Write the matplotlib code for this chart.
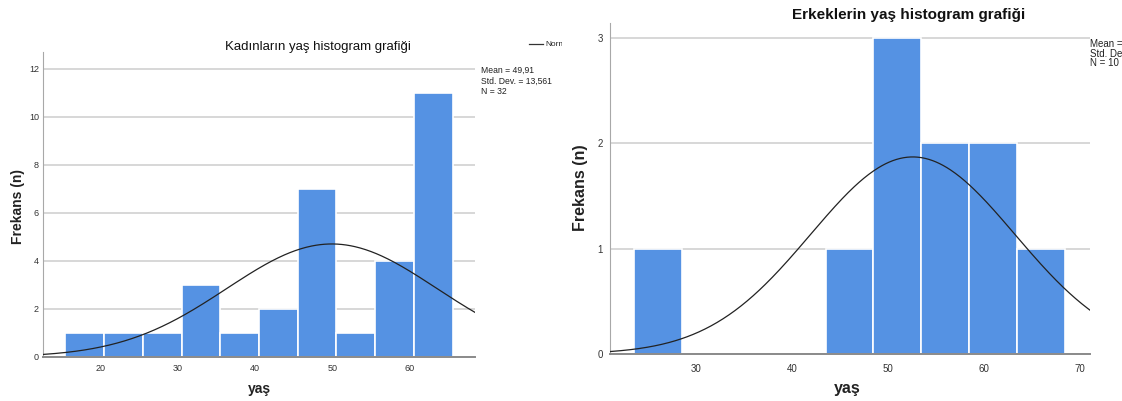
import numpy as np
import matplotlib
matplotlib.use("Agg")
import matplotlib.pyplot as plt
from matplotlib.transforms import Bbox, TransformedBbox

plt.rcParams['font.family'] = ['Liberation Sans', 'DejaVu Sans']

# ---- data ----
women_bin_start = 15.5
women_bin_width = 5.0
women_counts = [1, 1, 1, 3, 1, 2, 7, 1, 4, 11]
women_mean, women_sd, women_n = 49.91, 13.561, 32
women_xticks = [20, 30, 40, 50, 60]
women_yticks = [0, 2, 4, 6, 8, 10, 12]

men_bin_start = 23.5
men_bin_width = 5.0
men_counts = [1, 0, 0, 0, 1, 3, 2, 2, 1]
men_mean, men_sd, men_n = 52.6, 10.67, 10
men_xticks = [30, 40, 50, 60, 70]
men_yticks = [0, 1, 2, 3]

BAR = '#5592e3'
W, H = 1122, 401
fig = plt.figure(figsize=(W / 100, H / 100), dpi=100)


def px_axes(x0, x1, ytop, ybot):
    return fig.add_axes([x0 / W, 1 - ybot / H, (x1 - x0) / W, (ybot - ytop) / H])


def style(ax, fs, pad):
    for s in ['top', 'right']:
        ax.spines[s].set_visible(False)
    ax.spines['left'].set_color('#a8a8a8')
    ax.spines['bottom'].set_color('#8a8a8a')
    ax.spines['bottom'].set_linewidth(1.4)
    ax.grid(axis='y', color='#d4d4d4', linewidth=1.3, zorder=0)
    ax.set_axisbelow(True)
    ax.tick_params(axis='x', length=0, labelsize=fs, labelcolor='#333333', pad=pad + 2)
    ax.tick_params(axis='y', length=0, labelsize=fs, labelcolor='#333333', pad=pad)


def draw(ax, start, width, counts, mean, sd, n, xlim, ylim, xticks, yticks, fs, pad):
    edges = start + width * np.arange(len(counts))
    ax.bar(edges, counts, width=width, align='edge', color=BAR,
           edgecolor='white', linewidth=1.2, zorder=2)
    xs = np.linspace(xlim[0], xlim[1], 400)
    ys = n * width / (sd * np.sqrt(2 * np.pi)) * np.exp(-0.5 * ((xs - mean) / sd) ** 2)
    ax.plot(xs, ys, color='#222222', linewidth=0.9, zorder=3)
    ax.set_xlim(*xlim)
    ax.set_ylim(*ylim)
    ax.set_xticks(xticks)
    ax.set_yticks(yticks)
    style(ax, fs, pad)


# ---- left: women ----
axL = px_axes(43, 475, 52, 357)
draw(axL, women_bin_start, women_bin_width, women_counts, women_mean, women_sd,
     women_n, (12.6, 68.4), (0, 12.7), women_xticks, women_yticks, 6.5, 3)
fig.text(318 / W, 1 - 47 / H, 'Kadınların yaş histogram grafiği', ha='center',
         va='center', fontsize=9.5, color='#111111')
fig.text(18 / W, 1 - 206 / H, 'Frekans (n)', rotation=90, ha='center', va='center',
         fontsize=10, fontweight='bold', color='#222222')
fig.text(259 / W, 1 - 389 / H, 'yaş', ha='center', va='center', fontsize=10,
         fontweight='bold', color='#222222')
fig.text(481 / W, 1 - 81 / H,
         'Mean = 49,91\nStd. Dev. = 13,561\nN = 32',
         ha='left', va='center', fontsize=6.2, linespacing=1.2, color='#222222')
clip = TransformedBbox(Bbox([[0, 0], [562 / W, 1]]), fig.transFigure)
fig.add_artist(plt.Line2D([529 / W, 543 / W], [1 - 44 / H, 1 - 44 / H],
                          color='#333333', linewidth=0.9))
tN = fig.text(545 / W, 1 - 44 / H, 'Normal', ha='left', va='center', fontsize=6,
              color='#222222')
tN.set_clip_box(clip)
tN.set_clip_on(True)

# ---- right: men ----
axR = px_axes(610, 1090, 23, 354)
draw(axR, men_bin_start, men_bin_width, men_counts, men_mean, men_sd, men_n,
     (21.0, 71.1), (0, 3.14), men_xticks, men_yticks, 7, 5)
fig.text(909 / W, 1 - 15 / H, 'Erkeklerin yaş histogram grafiği', ha='center',
         va='center', fontsize=11, fontweight='bold', color='#111111')
fig.text(581 / W, 1 - 188 / H, 'Frekans (n)', rotation=90, ha='center', va='center',
         fontsize=11.5, fontweight='bold', color='#222222')
fig.text(847 / W, 1 - 388 / H, 'yaş', ha='center', va='center', fontsize=11.5,
         fontweight='bold', color='#222222')
fig.text(1090 / W, 1 - 53 / H,
         'Mean = 52,6\nStd. Dev. = 10,67\nN = 10',
         ha='left', va='center', fontsize=7, linespacing=1.0, color='#222222')

fig.savefig('out.png', dpi=100)
